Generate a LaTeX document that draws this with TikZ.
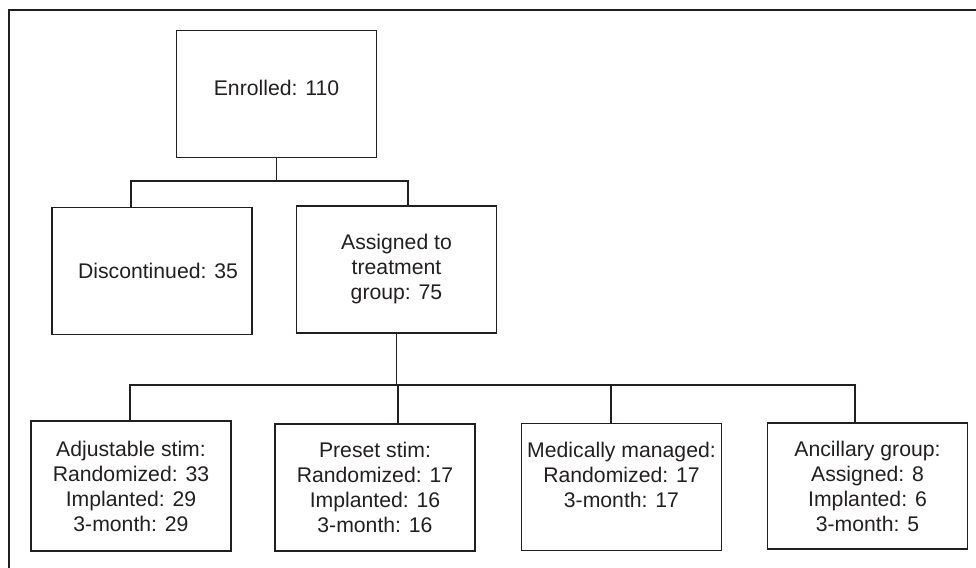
\documentclass[tikz,border=0pt]{standalone}
\usepackage{fontspec}
\setmainfont{Liberation Sans}
\usetikzlibrary{calc,positioning}

\definecolor{ink}{HTML}{231F20}

\tikzset{
  box/.style={draw=ink,rectangle,line width=0.85pt,minimum width=100pt,minimum height=63.5pt,
    align=center,inner sep=0pt,text=ink,font=\fontsize{10.6}{12.5}\selectfont},
  link/.style={draw=ink,line width=0.85pt}
}

\begin{document}
\begin{tikzpicture}[x=0.5pt,y=-0.5pt]

  \useasboundingbox (0,0) rectangle (976,568);

  % outer frame, cut off at the right and the bottom
  \coordinate (frame_bl) at (9,600);
  \coordinate (frame_tl) at (9,10);
  \coordinate (frame_tr) at (1000,10);
  \draw[ink,line width=1.1pt] (frame_bl) -- (frame_tl) -- (frame_tr);

  \node [box] at(276.5,94) (enrolled) {\raisebox{6pt}{Enrolled: 110}};
  \node [box] at(152,271) (discontinued) {\hspace{6pt}Discontinued: 35};
  \node [box] at(396.5,269.5) (assigned) {Assigned to\\ treatment\\ group: 75};

  \node [box,minimum height=65pt] at(131,486) (adjustable) {Adjustable stim:\\ Randomized: 33\\ Implanted: 29\\ 3-month: 29};
  \node [box] at(375,487.5) (preset) {Preset stim:\\ Randomized: 17\\ Implanted: 16\\ 3-month: 16};
  \node [box] at(621.5,487) (medical) {Medically managed:\\ Randomized: 17\\ 3-month: 17\\ ~};
  \node [box,minimum height=63pt] at(867.5,486) (ancillary) {Ancillary group:\\ Assigned: 8\\ Implanted: 6\\ 3-month: 5};

  % first split
  \foreach \n/\x in {discontinued/131, assigned/408} {
    \coordinate (drop_\n) at (\x,181);
    \draw[link] (enrolled.south) |- (drop_\n) -- (drop_\n |- \n.north);
  }

  % second split
  \foreach \n/\x in {adjustable/130, preset/398, medical/611, ancillary/855} {
    \coordinate (drop_\n) at (\x,385);
    \draw[link] (assigned.south) |- (drop_\n) -- (drop_\n |- \n.north);
  }

\end{tikzpicture}
\end{document}
